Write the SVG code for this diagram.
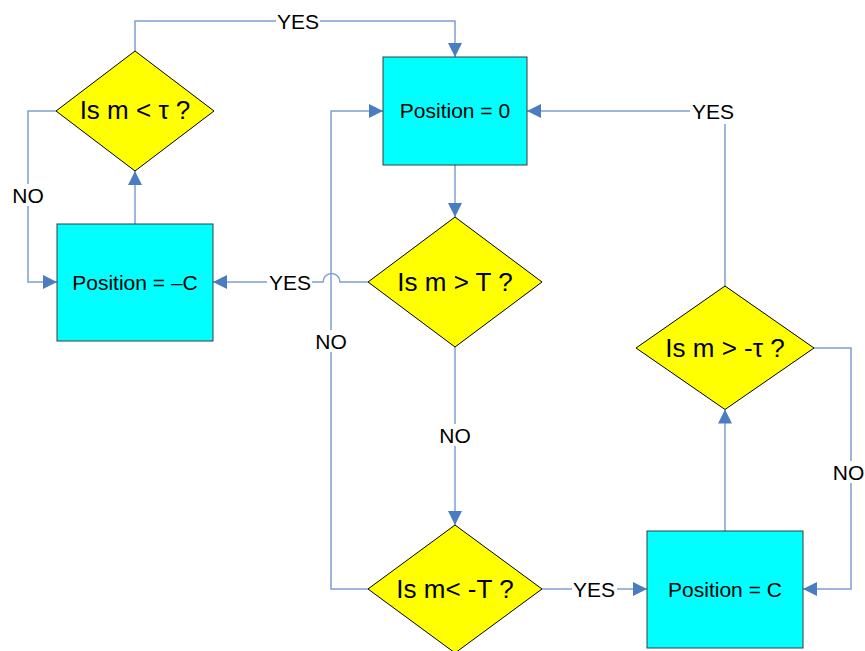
<svg xmlns="http://www.w3.org/2000/svg" width="865" height="651" viewBox="0 0 865 651">
  <style>
    .box { fill: #00ffff; stroke: #3a3a3a; stroke-width: 1; }
    .dec { fill: #ffff00; stroke: #000000; stroke-width: 1; }
    .wire { fill: none; stroke: #7d9fd3; stroke-width: 1.5; }
    .lbl-bg { fill: #ffffff; }
    .txt { font-family: "Liberation Sans", Arial, sans-serif; fill: #000000; text-anchor: middle; }
    .node-txt { font-size: 21px; }
    .dec-txt { font-size: 26px; }
    .lbl { font-size: 21px; }
  </style>
  <defs>
    <marker id="arrow" markerUnits="userSpaceOnUse" markerWidth="14" markerHeight="14" refX="14" refY="7" orient="auto">
      <path d="M0,0 L14,7 L0,14 Z" fill="#4a7cc2"/>
    </marker>
  </defs>

  <!-- connectors -->
  <g id="connectors">
    <path class="wire" d="M135,51 V21 H455 V57" marker-end="url(#arrow)"/>
    <path class="wire" d="M455,165 V217" marker-end="url(#arrow)"/>
    <path class="wire" d="M368,282 H340 A8.5,8.5 0 0 0 323,282 H213" marker-end="url(#arrow)"/>
    <path class="wire" d="M135,224 V171" marker-end="url(#arrow)"/>
    <path class="wire" d="M56,111 H28 V282 H57" marker-end="url(#arrow)"/>
    <path class="wire" d="M455,347 V525" marker-end="url(#arrow)"/>
    <path class="wire" d="M368,589 H331 V111 H383" marker-end="url(#arrow)"/>
    <path class="wire" d="M542,589 H647" marker-end="url(#arrow)"/>
    <path class="wire" d="M725,531 V409.5" marker-end="url(#arrow)"/>
    <path class="wire" d="M814,348 H851 V589 H803" marker-end="url(#arrow)"/>
    <path class="wire" d="M725,286 V111 H527" marker-end="url(#arrow)"/>

    <!-- connector labels -->
    <g id="lbl-yes-top">
      <rect class="lbl-bg" x="276" y="10" width="44" height="22"/>
      <text class="txt lbl" x="298" y="28.5">YES</text>
    </g>
    <g id="lbl-yes-left">
      <rect class="lbl-bg" x="267" y="271" width="45" height="22"/>
      <text class="txt lbl" x="290" y="289.5">YES</text>
    </g>
    <g id="lbl-no-left">
      <rect class="lbl-bg" x="12" y="184" width="33" height="22"/>
      <text class="txt lbl" x="28" y="202.5">NO</text>
    </g>
    <g id="lbl-no-mid">
      <rect class="lbl-bg" x="315" y="330" width="33" height="22"/>
      <text class="txt lbl" x="331" y="348.5">NO</text>
    </g>
    <g id="lbl-no-center">
      <rect class="lbl-bg" x="439" y="424" width="33" height="22"/>
      <text class="txt lbl" x="455" y="442.5">NO</text>
    </g>
    <g id="lbl-yes-bottom">
      <rect class="lbl-bg" x="572" y="578" width="45" height="22"/>
      <text class="txt lbl" x="594" y="596.5">YES</text>
    </g>
    <g id="lbl-no-right">
      <rect class="lbl-bg" x="832" y="461" width="33" height="22"/>
      <text class="txt lbl" x="848.5" y="479.5">NO</text>
    </g>
    <g id="lbl-yes-right">
      <rect class="lbl-bg" x="690" y="99" width="46" height="25"/>
      <text class="txt lbl" x="713" y="118.5">YES</text>
    </g>
  </g>

  <!-- nodes -->
  <g id="dec-m-lt-tau">
    <polygon class="dec" points="135,51 214,111 135,171 56,111"/>
    <text class="txt dec-txt" x="135" y="118.5">Is m &lt; τ ?</text>
  </g>

  <g id="pos-zero">
    <rect class="box" x="383" y="57" width="144" height="108"/>
    <text class="txt node-txt" x="455" y="118">Position = 0</text>
  </g>

  <g id="pos-neg-c">
    <rect class="box" x="57" y="224" width="156" height="117"/>
    <text class="txt node-txt" x="135" y="289.5">Position = –C</text>
  </g>

  <g id="dec-m-gt-t">
    <polygon class="dec" points="455,217 542,282 455,347 368,282"/>
    <text class="txt dec-txt" x="455" y="291">Is m &gt; T ?</text>
  </g>

  <g id="dec-m-gt-neg-tau">
    <polygon class="dec" points="725,286 814,348 725,409.5 636,348"/>
    <text class="txt dec-txt" x="725" y="357">Is m &gt; -τ ?</text>
  </g>

  <g id="dec-m-lt-neg-t">
    <polygon class="dec" points="455,525 542,589 455,653 368,589"/>
    <text class="txt dec-txt" x="455" y="598">Is m&lt; -T ?</text>
  </g>

  <g id="pos-c">
    <rect class="box" x="647" y="531" width="156" height="117"/>
    <text class="txt node-txt" x="725" y="596.5">Position = C</text>
  </g>
</svg>
